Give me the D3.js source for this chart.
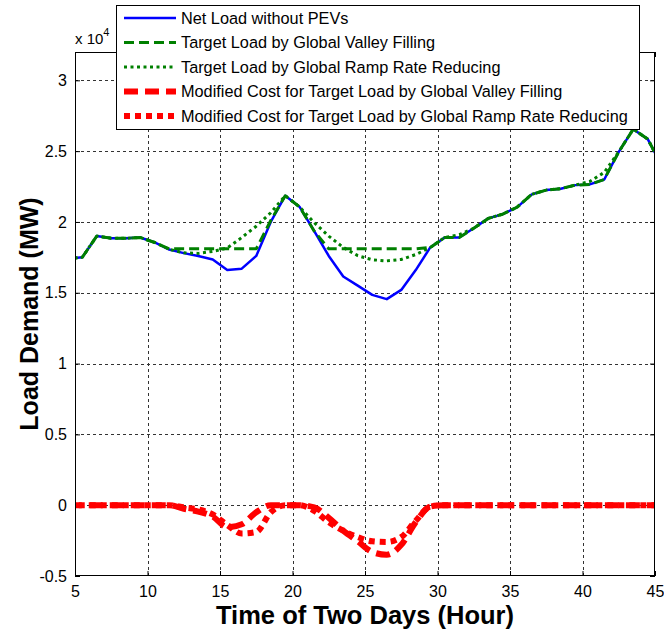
<!DOCTYPE html>
<html>
<head>
<meta charset="utf-8">
<script src="https://cdn.jsdelivr.net/npm/d3@7"></script>
<style>
  html, body { margin: 0; padding: 0; background: #fff; }
  svg { display: block; font-family: "Liberation Sans", Arial, Helvetica, sans-serif; }
</style>
</head>
<body>
<svg id="chart" width="664" height="633"></svg>
<script>
// Hourly samples (hour centres); the axis clips to 5..45
const hours = [4.5, 5.5, 6.5, 7.5, 8.5, 9.5, 10.5, 11.5, 12.5, 13.5, 14.5, 15.5, 16.5, 17.5,
  18.5, 19.5, 20.5, 21.5, 22.5, 23.5, 24.5, 25.5, 26.5, 27.5, 28.5, 29.5, 30.5, 31.5,
  32.5, 33.5, 34.5, 35.5, 36.5, 37.5, 38.5, 39.5, 40.5, 41.5, 42.5, 43.5, 44.5, 45.5];

// Load in MW
const netLoad = [17400, 17500, 19000, 18850, 18850, 18900, 18550, 18050, 17800, 17600, 17350, 16600, 16700, 17600,
  20000, 21850, 21050, 19350, 17600, 16150, 15500, 14850, 14550, 15200, 16600, 18200, 18900, 18900,
  19550, 20250, 20550, 21050, 21950, 22250, 22350, 22600, 22650, 23000, 24950, 26550, 25850, 23900];

const valleyFilling = [17400, 17500, 19000, 18850, 18850, 18900, 18550, 18100, 18100, 18100, 18100, 18100, 18100, 18100,
  20100, 21850, 21050, 19350, 18100, 18100, 18100, 18100, 18100, 18100, 18100, 18200, 18900, 18900,
  19550, 20250, 20550, 21050, 21950, 22250, 22350, 22600, 22650, 23000, 24950, 26550, 25850, 23900];

const rampReducing = [17400, 17500, 19000, 18850, 18850, 18900, 18550, 18070, 17820, 17780, 17920, 18160, 18900, 19700,
  20650, 21850, 21050, 19950, 19000, 18200, 17620, 17330, 17250, 17350, 17700, 18200, 18900, 19100,
  19550, 20250, 20550, 21050, 21950, 22250, 22350, 22600, 22850, 23500, 24950, 26550, 25850, 23900];

const costValley = [0, 0, 0, 0, 0, 0, 0, 0, -250, -450, -800, -1550, -1350, -500,
  0, 0, 0, -150, -900, -1800, -2550, -3300, -3500, -2800, -1200, -100, 0, 0,
  0, 0, 0, 0, 0, 0, 0, 0, 0, 0, 0, 0, 0, 0];

const costRamp = [0, 0, 0, 0, 0, 0, 0, 0, -150, -300, -650, -1400, -2000, -1900,
  -500, 0, 0, -400, -1200, -1800, -2250, -2550, -2600, -2250, -1100, -100, 0, 0,
  0, 0, 0, 0, 0, 0, 0, 0, 0, 0, 0, 0, 0, 0];

const xTicks = [5, 10, 15, 20, 25, 30, 35, 40, 45];
const yTicks = [-5000, 0, 5000, 10000, 15000, 20000, 25000, 30000];

const seriesNames = [
  "Net Load without PEVs",
  "Target Load by Global Valley Filling",
  "Target Load by Global Ramp Rate Reducing",
  "Modified Cost for Target Load by Global Valley Filling",
  "Modified Cost for Target Load by Global Ramp Rate Reducing"
];

const svg = d3.select("#chart");
const plot = { left: 75, right: 655, top: 52, bottom: 576 };

const x = d3.scaleLinear().domain([5, 45]).range([plot.left, plot.right]);
const y = d3.scaleLinear().domain([-5000, 32000]).range([plot.bottom, plot.top]);

svg.append("rect").attr("width", 664).attr("height", 633).attr("fill", "#fff");

svg.append("defs").append("clipPath").attr("id", "plotClip")
  .append("rect")
  .attr("x", plot.left).attr("y", plot.top)
  .attr("width", plot.right - plot.left).attr("height", plot.bottom - plot.top);

// Dashed grid
const grid = svg.append("g").attr("stroke", "#333").attr("stroke-width", 1)
  .attr("stroke-dasharray", "3,3").attr("shape-rendering", "crispEdges");
grid.selectAll("line.gx").data(xTicks.slice(1, -1)).join("line")
  .attr("x1", d => Math.round(x(d)) + 0.5).attr("x2", d => Math.round(x(d)) + 0.5)
  .attr("y1", plot.bottom).attr("y2", plot.top);
grid.selectAll("line.gy").data(yTicks.slice(1)).join("line")
  .attr("x1", plot.left).attr("x2", plot.right)
  .attr("y1", d => Math.round(y(d)) + 0.5).attr("y2", d => Math.round(y(d)) + 0.5);

// Axes with inward ticks
const tickFont = "16px";
svg.append("g").attr("transform", `translate(0,${plot.bottom})`)
  .call(d3.axisBottom(x).tickValues(xTicks).tickSizeInner(-5).tickSizeOuter(0).tickPadding(10));
svg.append("g").attr("transform", `translate(${plot.left},0)`)
  .call(d3.axisLeft(y).tickValues(yTicks).tickFormat(d => d / 10000).tickSizeInner(-5).tickSizeOuter(0).tickPadding(8));
svg.append("g").attr("transform", `translate(0,${plot.top})`)
  .call(d3.axisTop(x).tickValues(xTicks).tickSizeInner(-5).tickSizeOuter(0).tickFormat(""));
svg.append("g").attr("transform", `translate(${plot.right},0)`)
  .call(d3.axisRight(y).tickValues(yTicks).tickSizeInner(-5).tickSizeOuter(0).tickFormat(""));
svg.selectAll(".domain").remove();
svg.selectAll(".tick text").attr("font-size", tickFont).attr("fill", "#000")
  .attr("font-family", "'Liberation Sans', Arial, sans-serif");
svg.selectAll(".tick line").attr("stroke", "#000");

// Line series
const line = d3.line().x((d, i) => x(hours[i])).y(d => y(d));
const smooth = d3.line().x((d, i) => x(hours[i])).y(d => y(d)).curve(d3.curveMonotoneX);

const series = [
  { data: costValley, gen: smooth, color: "#ff0000", width: 6, dash: "14,7" },
  { data: costRamp, gen: smooth, color: "#ff0000", width: 6, dash: "6,5" },
  { data: netLoad, gen: line, color: "#0000ff", width: 2.5, dash: null },
  { data: valleyFilling, gen: line, color: "#008000", width: 3, dash: "10,5" },
  { data: rampReducing, gen: line, color: "#008000", width: 3, dash: "3,3.5" }
];

const lines = svg.append("g").attr("clip-path", "url(#plotClip)");
series.forEach(s => {
  lines.append("path")
    .attr("d", s.gen(s.data))
    .attr("fill", "none")
    .attr("stroke", s.color)
    .attr("stroke-width", s.width)
    .attr("stroke-dasharray", s.dash)
    .attr("stroke-linejoin", "round");
});

// Plot frame
svg.append("rect")
  .attr("x", plot.left + 0.5).attr("y", plot.top + 0.5)
  .attr("width", plot.right - plot.left - 1).attr("height", plot.bottom - plot.top - 1)
  .attr("fill", "none").attr("stroke", "#000").attr("stroke-width", 1);

// Exponent label
const expo = svg.append("text").attr("x", 75).attr("y", 44).attr("font-size", "15px");
expo.append("tspan").text("x 10");
expo.append("tspan").attr("dy", -8).attr("font-size", "11px").text("4");

// Axis titles
svg.append("text")
  .attr("x", (plot.left + plot.right) / 2).attr("y", 624)
  .attr("text-anchor", "middle").attr("font-size", "25.5px").attr("font-weight", "bold")
  .text("Time of Two Days (Hour)");
svg.append("text")
  .attr("transform", `translate(38,${(plot.top + plot.bottom) / 2}) rotate(-90)`)
  .attr("text-anchor", "middle").attr("font-size", "25px").attr("font-weight", "bold")
  .text("Load Demand (MW)");

// Legend
const legend = svg.append("g");
legend.append("rect")
  .attr("x", 116.5).attr("y", 5.5).attr("width", 523).attr("height", 124)
  .attr("fill", "#fff").attr("stroke", "#000").attr("stroke-width", 1);
const legendOrder = [2, 3, 4, 0, 1];
legendOrder.forEach((si, k) => {
  const s = series[si];
  const cy = 18 + k * 24.5;
  legend.append("line")
    .attr("x1", 124).attr("x2", 176).attr("y1", cy).attr("y2", cy)
    .attr("stroke", s.color).attr("stroke-width", s.width)
    .attr("stroke-dasharray", s.dash);
  legend.append("text")
    .attr("x", 181).attr("y", cy + 5.5)
    .attr("font-size", "16.3px")
    .text(seriesNames[k]);
});
</script>
</body>
</html>
